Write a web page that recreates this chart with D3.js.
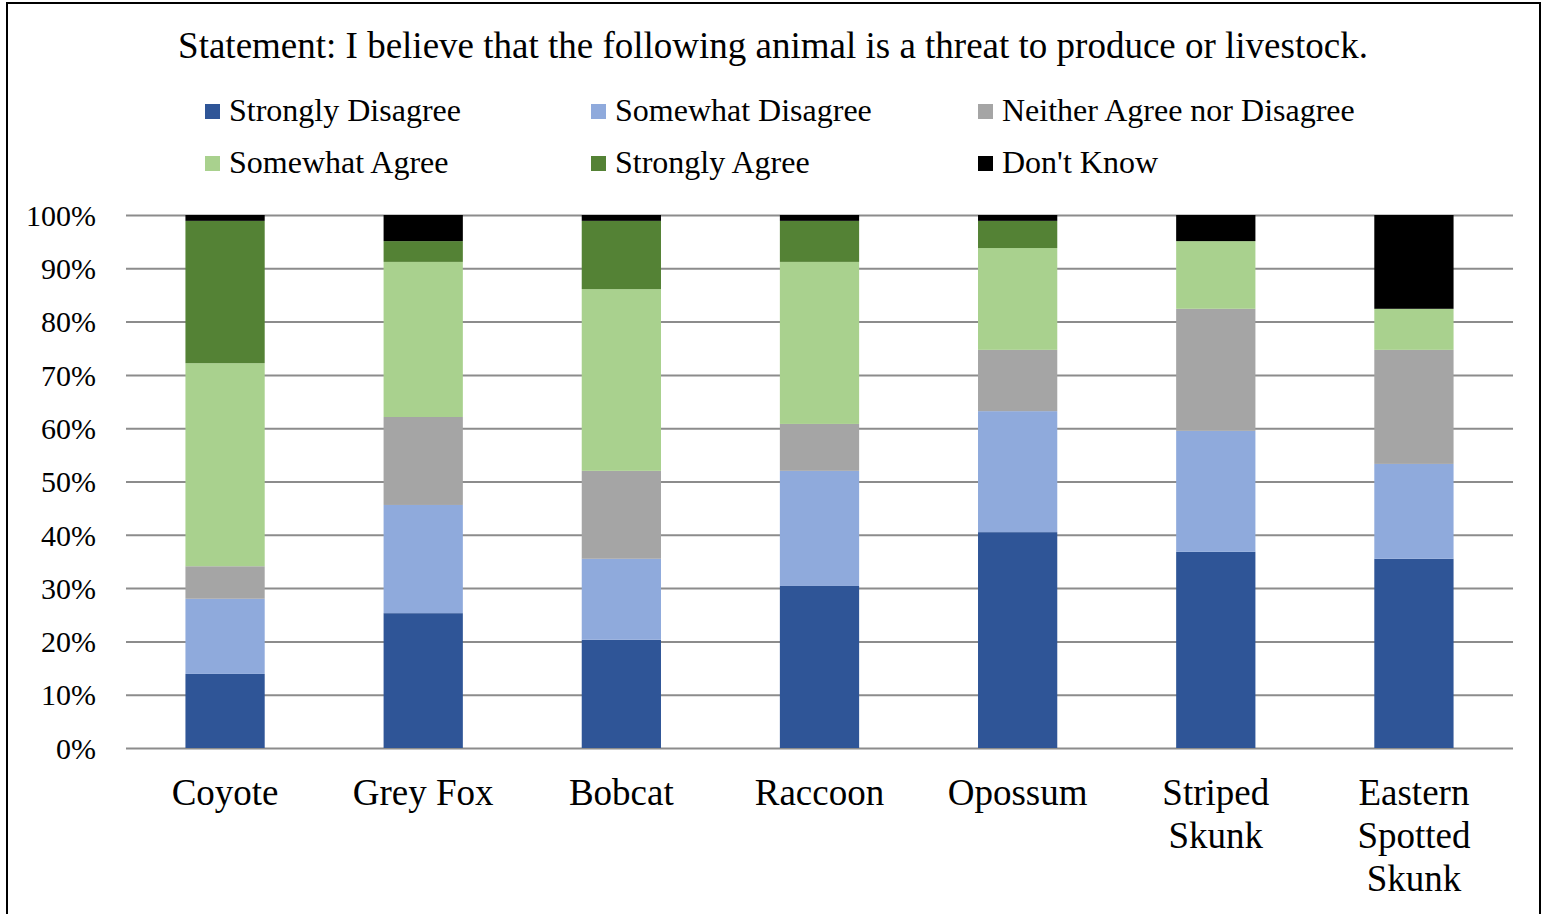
<!DOCTYPE html>
<html>
<head>
<meta charset="utf-8">
<script src="https://cdn.jsdelivr.net/npm/d3@7"></script>
<style>
  html, body { margin: 0; padding: 0; background: #fff; }
  svg { display: block; font-family: "Liberation Serif", "Times New Roman", serif; }
</style>
</head>
<body>
<svg id="chart" width="1543" height="914"></svg>
<script>
// Survey responses (% of respondents) per animal
const animals = ["Coyote", "Grey Fox", "Bobcat", "Raccoon", "Opossum", "Striped Skunk", "Eastern Spotted Skunk"];
const animalLines = [["Coyote"], ["Grey Fox"], ["Bobcat"], ["Raccoon"], ["Opossum"], ["Striped", "Skunk"], ["Eastern", "Spotted", "Skunk"]];
const responses = ["Strongly Disagree", "Somewhat Disagree", "Neither Agree nor Disagree", "Somewhat Agree", "Strongly Agree", "Don't Know"];
const colors = ["#2F5597", "#8FAADC", "#A5A5A5", "#A9D18E", "#548235", "#000000"];

const stronglyDisagree = [13.9, 25.3, 20.3, 30.4, 40.5, 36.8, 35.5];
const somewhatDisagree = [14.1, 20.3, 15.2, 21.6, 22.7, 22.7, 17.8];
const neither          = [6.1, 16.5, 16.5, 8.8, 11.5, 22.9, 21.4];
const somewhatAgree    = [38.1, 29.1, 34.1, 30.4, 19.1, 12.7, 7.7];
const stronglyAgree    = [26.7, 3.9, 12.8, 7.7, 5.1, 0, 0];
const dontKnow         = [1.1, 4.9, 1.1, 1.1, 1.1, 4.9, 17.6];

const yTicks = [0, 10, 20, 30, 40, 50, 60, 70, 80, 90, 100];
const title = "Statement: I believe that the following animal is a threat to produce or livestock.";

const seriesValues = [stronglyDisagree, somewhatDisagree, neither, somewhatAgree, stronglyAgree, dontKnow];
const rows = animals.map((a, i) => {
  const r = { animal: a };
  responses.forEach((k, j) => { r[k] = seriesValues[j][i]; });
  return r;
});

const svg = d3.select("#chart");
const plot = { left: 126, right: 1513, top: 215, bottom: 748 };

// outer frame
svg.append("rect")
  .attr("x", 7).attr("y", 3).attr("width", 1533).attr("height", 930)
  .attr("fill", "none").attr("stroke", "#000").attr("stroke-width", 2);

const x = d3.scaleBand().domain(animals).range([plot.left, plot.right]).paddingInner(0.6).paddingOuter(0.3);
const y = d3.scaleLinear().domain([0, 100]).range([plot.bottom, plot.top]);

// gridlines
svg.append("g")
  .attr("transform", `translate(${plot.left},0)`)
  .call(d3.axisLeft(y).tickValues(yTicks).tickSize(-(plot.right - plot.left)).tickFormat(""))
  .call(g => g.select(".domain").remove())
  .call(g => g.selectAll("line").attr("stroke", "#8c8c8c").attr("stroke-width", 2));

// y tick labels
svg.append("g")
  .attr("transform", `translate(${plot.left},0)`)
  .call(d3.axisLeft(y).tickValues(yTicks).tickSize(0).tickPadding(30).tickFormat(d => d + "%"))
  .call(g => g.select(".domain").remove())
  .call(g => g.selectAll("text").attr("font-size", 30).attr("dy", "0.34em").attr("fill", "#000").attr("font-family", "Liberation Serif"));

// stacked bars
const stack = d3.stack().keys(responses)(rows);
svg.append("g").selectAll("g")
  .data(stack).join("g")
  .attr("fill", (d, i) => colors[i])
  .selectAll("rect")
  .data(d => d).join("rect")
  .attr("x", d => x(d.data.animal))
  .attr("width", x.bandwidth())
  .attr("y", d => y(d[1]))
  .attr("height", d => y(d[0]) - y(d[1]));

// category labels
const catG = svg.append("g");
animals.forEach((a, i) => {
  const cx = x(a) + x.bandwidth() / 2;
  const t = catG.append("text")
    .attr("x", cx)
    .attr("y", 805)
    .attr("text-anchor", "middle")
    .attr("font-size", 37)
    .attr("fill", "#000");
  animalLines[i].forEach((line, k) => {
    t.append("tspan").attr("x", cx).attr("dy", k === 0 ? 0 : 43).text(line);
  });
});

// title
svg.append("text")
  .attr("x", 773).attr("y", 58)
  .attr("text-anchor", "middle")
  .attr("font-size", 37)
  .attr("fill", "#000")
  .text(title);

// legend
const legCols = [205, 591, 978];
const legRows = [111, 163];
const leg = svg.append("g");
responses.forEach((r, i) => {
  const cx = legCols[i % 3], cy = legRows[Math.floor(i / 3)];
  leg.append("rect").attr("x", cx).attr("y", cy - 7).attr("width", 15).attr("height", 15).attr("fill", colors[i]);
  leg.append("text").attr("x", cx + 24).attr("y", cy + 10)
    .attr("font-size", 32).attr("fill", "#000").text(r);
});
</script>
</body>
</html>
